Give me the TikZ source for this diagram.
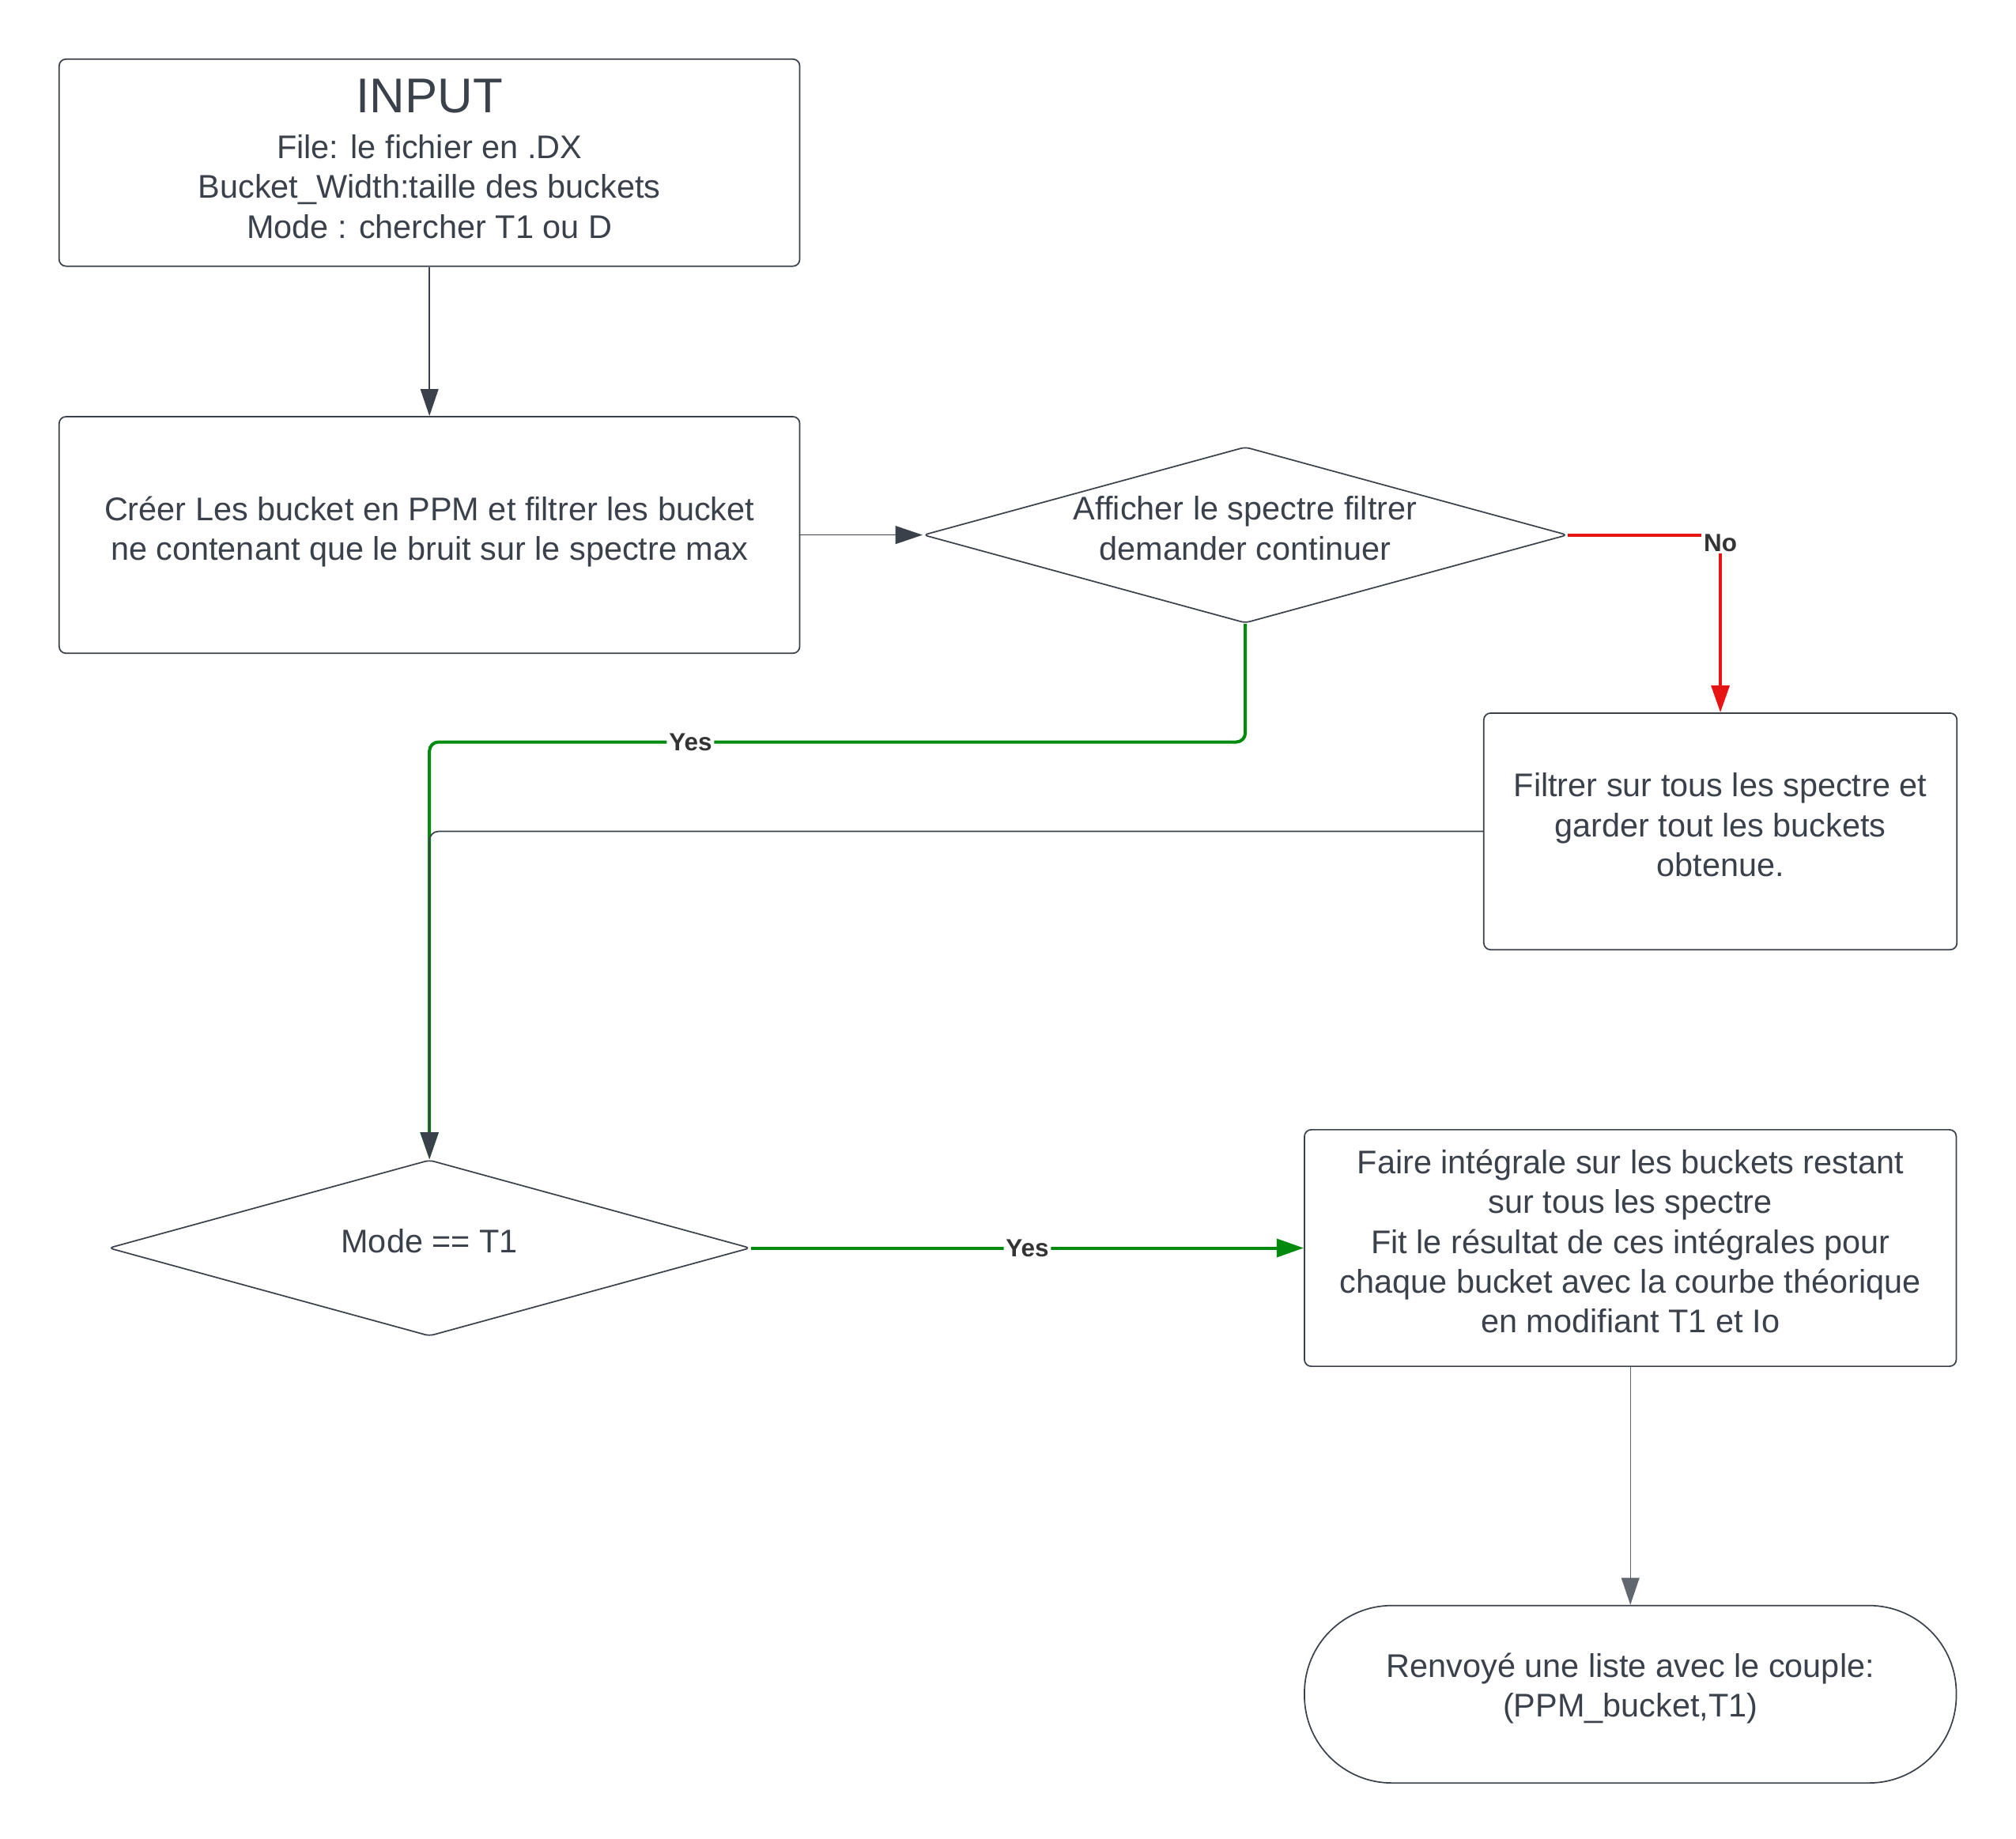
\documentclass[tikz,border=0pt]{standalone}
\usepackage{fontspec}
\setmainfont{Liberation Sans}
\usepackage{tikz}
\usetikzlibrary{arrows.meta,positioning,shapes.geometric}
\definecolor{inkgray}{HTML}{3A414A}
\definecolor{yesgreen}{HTML}{008A0E}
\definecolor{nored}{HTML}{E81313}
\definecolor{labelgray}{HTML}{333333}
\tikzset{
  stepbox/.style={draw=inkgray,line width=0.6pt,rounded corners=3pt,align=center,
    text=inkgray,font=\fontsize{14.5}{17.6}\selectfont,inner sep=0pt,text depth=6pt},
  choicebox/.style={diamond,aspect=3.65,draw=inkgray,line width=0.6pt,rounded corners=2pt,
    align=center,text=inkgray,font=\fontsize{14.5}{17.6}\selectfont,inner sep=0pt,text depth=6pt},
  endbox/.style={stepbox,rounded corners=1.36cm,text depth=8pt},
  flowarrow/.style={-{Triangle[length=4.2mm,width=2.8mm]},draw=inkgray,line width=0.6pt},
  yesarrow/.style={-{Triangle[length=4.2mm,width=2.8mm]},draw=yesgreen,line width=1.4pt,rounded corners=4pt},
  noarrow/.style={-{Triangle[length=4.2mm,width=2.8mm]},draw=nored,line width=1.4pt},
  branchlabel/.style={font=\fontsize{11}{13}\selectfont\bfseries,text=labelgray,fill=white,inner sep=1pt}
}
\begin{document}
\begin{tikzpicture}[node distance=2.32cm and 1.9cm]
  \useasboundingbox (0,0) rectangle (31.36,-28.6);
  \node[stepbox,text depth=3.5pt,minimum width=11.52cm,minimum height=3.22cm] (input) at (6.68,-2.53)
    {{\fontsize{21.6}{24}\selectfont INPUT}\\[2.6pt]File: le fichier en .DX\\Bucket\_Width:taille des buckets\\Mode : chercher T1 ou D};
  \node[stepbox,below=of input,minimum width=11.52cm,minimum height=3.68cm] (buckets)
    {Créer Les bucket en PPM et filtrer les bucket\\ne contenant que le bruit sur le spectre max};
  \node[choicebox,right=of buckets,minimum width=10.02cm,minimum height=2.74cm] (show)
    {Afficher le spectre filtrer\\demander continuer};
  \node[stepbox,below=1.38cm of show,xshift=7.39cm,minimum width=7.36cm,minimum height=3.68cm] (allspec)
    {Filtrer sur tous les spectre et\\garder tout les buckets\\obtenue.};
  \node[choicebox,below=7.86cm of buckets,minimum width=9.98cm,minimum height=2.74cm] (mode) {Mode == T1};
  \node[stepbox,right=8.6cm of mode,minimum width=10.14cm,minimum height=3.68cm] (fit)
    {Faire intégrale sur les buckets restant\\sur tous les spectre\\Fit le résultat de ces intégrales pour\\chaque bucket avec la courbe théorique\\en modifiant T1 et Io};
  \node[endbox,below=3.7cm of fit,minimum width=10.14cm,minimum height=2.76cm] (result)
    {Renvoyé une liste avec le couple:\\(PPM\_bucket,T1)};

  \draw[flowarrow] (input) -- (buckets);
  \draw[flowarrow] (buckets) -- (show);
  \draw[noarrow] (show.east) -| node[branchlabel,pos=0.5,yshift=-0.12cm] {No} (allspec.north);
  \draw[yesarrow] (show.south) -- ++(0,-1.84) -| node[branchlabel,pos=0.34] {Yes} (mode.north);
  \draw[flowarrow,rounded corners=4pt] (allspec.west) -| (mode.north);
  \draw[yesarrow] (mode) -- node[branchlabel] {Yes} (fit);
  \draw[flowarrow,line width=0.4pt,draw=inkgray!80] (fit) -- (result);
\end{tikzpicture}
\end{document}
